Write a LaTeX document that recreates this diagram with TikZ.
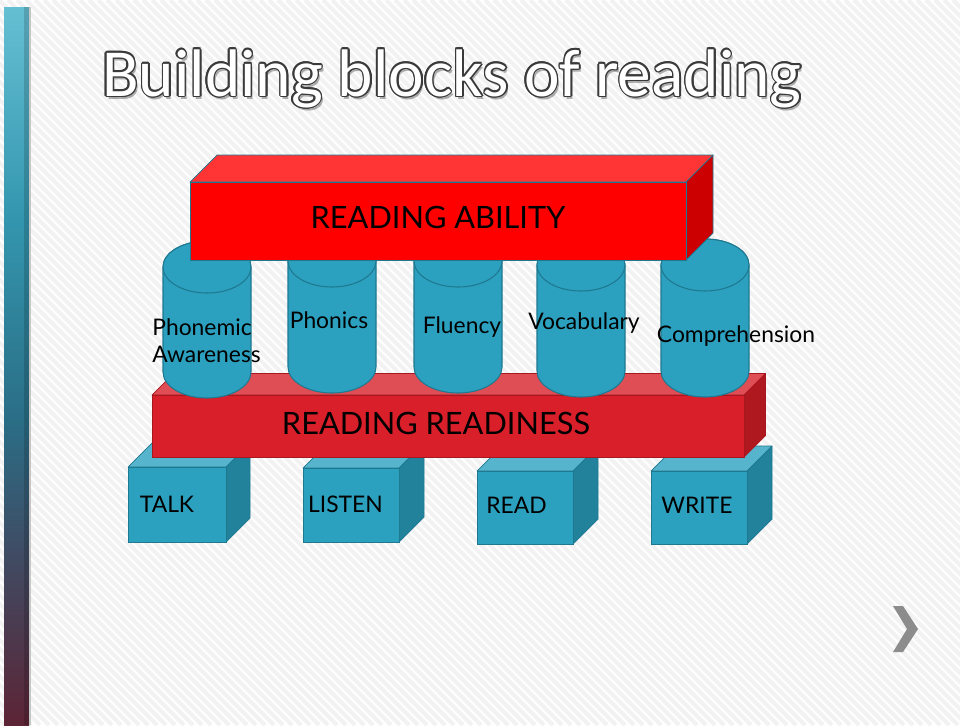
\documentclass[tikz,border=0pt]{standalone}
\usepackage{fontspec}
\setmainfont{Carlito}
\newfontfamily\lblfont{Lato}

\definecolor{abilityfront}{HTML}{FF0000}
\definecolor{abilitytop}{HTML}{FF3535}
\definecolor{abilityside}{HTML}{CC0000}
\definecolor{readyfront}{HTML}{D91F2A}
\definecolor{readytop}{HTML}{DF4D55}
\definecolor{readyside}{HTML}{B01820}
\definecolor{readyedge}{HTML}{A8161F}
\definecolor{tealfront}{HTML}{2CA1BF}
\definecolor{tealtop}{HTML}{56B5CC}
\definecolor{tealside}{HTML}{23829B}
\definecolor{tealedge}{HTML}{1E7890}
\definecolor{barcyan}{HTML}{65BFD3}
\definecolor{barteal}{HTML}{3396AE}
\definecolor{barblue}{HTML}{2A6E86}
\definecolor{barslate}{HTML}{404A62}
\definecolor{barwine}{HTML}{5C2435}
\definecolor{chevgray}{HTML}{8C8C8C}
\definecolor{titleline}{HTML}{3A3A3A}

\tikzset{
  stripe/.style={line width=0.08cm, draw=black!5},
  ability top/.style={fill=abilitytop, draw=tealedge, line join=round},
  ability side/.style={fill=abilityside, draw=tealedge, line join=round},
  ability front/.style={fill=abilityfront, draw=tealedge},
  ready top/.style={fill=readytop, draw=readyedge, line join=round},
  ready side/.style={fill=readyside, draw=readyedge, line join=round},
  ready front/.style={fill=readyfront, draw=readyedge},
  cube top/.style={fill=tealtop, draw=tealedge, line join=round},
  cube side/.style={fill=tealside, draw=tealedge, line join=round},
  cube front/.style={fill=tealfront, draw=tealedge},
  pillar/.style={fill=tealfront, draw=tealedge, line width=0.6pt},
  titletext/.style={font=\fontsize{38.3}{40}\selectfont, anchor=base, inner sep=0pt},
  lbl/.style={font=\lblfont\fontsize{13}{15}\selectfont, anchor=base, inner sep=0pt, text=black},
  biglbl/.style={font=\lblfont\fontsize{17.5}{20}\selectfont, anchor=base, inner sep=0pt, text=black},
}

% box: x1, y1 (top), x2, y2 (bottom), depth, style prefix
\newcommand{\slab}[6]{%
  \draw[#6 top] (#1,#2) -- (#1+#5,#2-#5) -- (#3+#5,#2-#5) -- (#3,#2) -- cycle;
  \draw[#6 side] (#3,#2) -- (#3+#5,#2-#5) -- (#3+#5,#4-#5) -- (#3,#4) -- cycle;
  \draw[#6 front] (#1,#2) rectangle (#3,#4);
}
% cylinder: centre x, top y, bottom y
\newcommand{\pillar}[3]{%
  \draw[pillar] (#1-44,#2) -- (#1-44,#3) arc[start angle=180, end angle=0, x radius=44, y radius=26]
    -- (#1+44,#2) arc[start angle=0, end angle=-180, x radius=44, y radius=26] -- cycle;
  \draw[pillar] (#1,#2) ellipse[x radius=44, y radius=26];
}

\begin{document}
\begin{tikzpicture}[x=0.02cm, y=-0.02cm]
  \useasboundingbox (0,0) rectangle (960,725);
  \fill[white] (0,0) rectangle (960,725);

  % background stripes
  \begin{scope}
    \clip (0,0) rectangle (960,725);
    \foreach \s in {-730,-721,...,960}
      \draw[stripe] (\s,0) -- ++(725,725);
  \end{scope}

  % side bar
  \shade[top color=barcyan, bottom color=barteal] (4,7) rectangle (29,220.5);
  \shade[top color=barteal, bottom color=barblue] (4,220) rectangle (29,420.5);
  \shade[top color=barblue, bottom color=barslate] (4,420) rectangle (29,560.5);
  \shade[top color=barslate, bottom color=barwine] (4,560) rectangle (29,725);
  \fill[black, opacity=0.15] (24,7) rectangle (29,725);
  \fill[gray!45] (29,7) rectangle (30.5,725);

  % title
  \node[titletext, text=black, opacity=0.3, shift={(2,3)}] (ttlshadow) at (452,96) {Building blocks of reading};
  \foreach \a in {0,30,...,330}
    \node[titletext, text=titleline, shift={(\a:1.5)}] (ttl\a) at (452,96) {Building blocks of reading};
  \node[titletext, text=white] (title) at (452,96) {Building blocks of reading};

  % bottom cubes
  \slab{128}{467}{226}{542}{24}{cube}
  \slab{303}{468}{399}{542}{25}{cube}
  \slab{477}{471}{573}{544}{25}{cube}
  \slab{651}{471}{747}{544}{25}{cube}

  \node[lbl] (talk) at (167,512) {TALK};
  \node[lbl] (listen) at (345.5,512) {LISTEN};
  \node[lbl] (read) at (516.5,513) {READ};
  \node[lbl] (write) at (697,513) {WRITE};

  % base
  \slab{152}{395}{744}{457}{21.5}{ready}
  \node[biglbl] (readiness) at (436,434) {READING READINESS};

  % pillars
  \pillar{207}{267}{372}
  \pillar{332}{261}{367}
  \pillar{458}{261}{367}
  \pillar{581}{265}{371}
  \pillar{705}{265}{371}

  \node[lbl, anchor=base west] (phonemic) at (152,335) {Phonemic};
  \node[lbl, anchor=base west] (awareness) at (152,362) {Awareness};
  \node[lbl] (phonics) at (329,328) {Phonics};
  \node[lbl] (fluency) at (462,333) {Fluency};
  \node[lbl] (vocabulary) at (584,329) {Vocabulary};
  \node[lbl] (comprehension) at (736,342) {Comprehension};

  % top beam
  \slab{190}{182}{686}{260}{27}{ability}
  \node[biglbl] (ability) at (438,228) {READING ABILITY};

  % next arrow
  \fill[chevgray] (893,606) -- (903,606) -- (918,629) -- (903,652) -- (893,652) -- (907,629) -- cycle;
\end{tikzpicture}
\end{document}
